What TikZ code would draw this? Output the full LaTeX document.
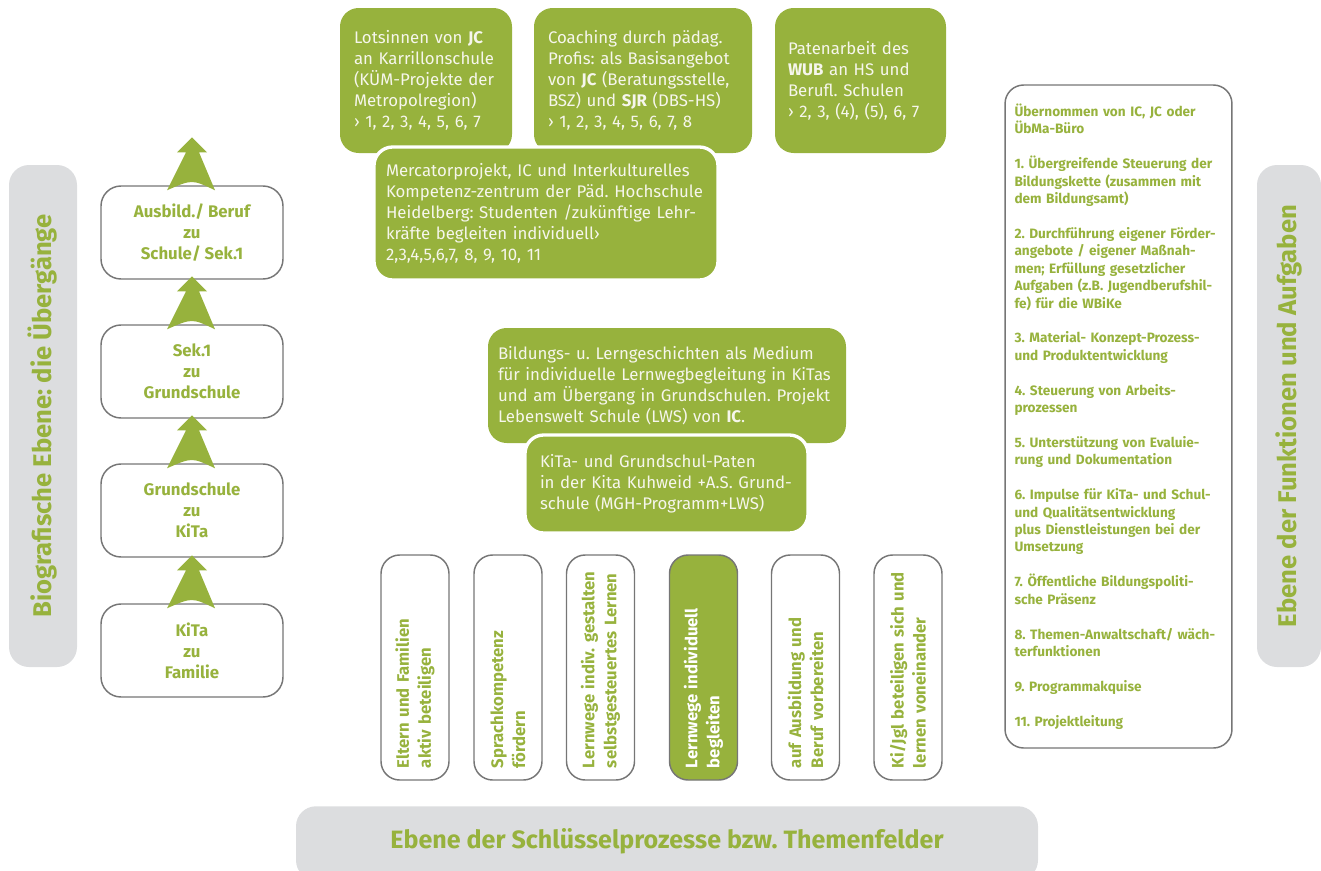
\documentclass[tikz,border=0pt]{standalone}
\usepackage{fontspec}
\setmainfont{Fira Sans}
\frenchspacing
\usetikzlibrary{calc}
\definecolor{wbgreen}{RGB}{151,178,61}
\definecolor{wbgray}{RGB}{220,221,223}
\definecolor{wbline}{RGB}{118,118,118}
\definecolor{wbtext}{RGB}{246,246,236}
\def\stagearrow(#1){
  \fill[wbgreen, shift={(#1.north)}] (0,-48) -- (15,-33) -- (7,-33) -- (23,5) .. controls (0,-6) .. (-25,5) -- (-6,-33) -- (-15,-33) -- cycle;
}

\begin{document}
\begin{tikzpicture}[x=0.75pt, y=-0.75pt,
  gbox/.style={fill=wbgreen, text=wbtext, rounded corners=14pt, align=left, font=\fontsize{12.6}{15.75}\selectfont},
  stage/.style={draw=wbline, line width=1.1pt, fill=white, rounded corners=15pt, minimum width=136.5pt, minimum height=69.75pt, align=center, text=wbgreen, font=\bfseries\fontsize{12.6}{15.75}\selectfont},
  tfbox/.style={draw=wbline, line width=1.1pt, rounded corners=14pt, rotate=90, minimum height=51pt, text width=150.75pt, inner xsep=9pt, align=left, text=wbgreen, font=\bfseries\fontsize{12.5}{16.5}\selectfont},
  sidebar/.style={fill=wbgray, rounded corners=15pt, rotate=90, minimum width=376.5pt, text=wbgreen, font=\bfseries\fontsize{19.2}{22}\selectfont}]
\useasboundingbox (0,0) rectangle (1321,871);

\node[sidebar, minimum height=51pt] (bio_bar) at (43,416) {Biografische Ebene: die Übergänge};
\node[sidebar, minimum height=48pt] (fkt_bar) at (1289,416) {Ebene der Funktionen und Aufgaben};
\node[fill=wbgray, rounded corners=15pt, anchor=north, inner ysep=0pt, text height=31.5pt, text depth=24pt, minimum width=556.5pt, text=wbgreen, font=\bfseries\fontsize{18.8}{22}\selectfont] (themen_bar) at (667,806) {Ebene der Schlüsselprozesse bzw. Themenfelder};

\node[stage] (stg_beruf) at (192,232.5) {Ausbild./ Beruf\\zu\\Schule/ Sek.1};
\node[stage] (stg_sek) at (192,371.5) {Sek.1\\zu\\Grundschule};
\node[stage] (stg_gs) at (192,510.5) {Grundschule\\zu\\KiTa};
\node[stage] (stg_kita) at (192,650.5) {KiTa\\zu\\Familie};
\stagearrow(stg_beruf)
\stagearrow(stg_sek)
\stagearrow(stg_gs)
\stagearrow(stg_kita)

\node[gbox, inner xsep=10.5pt, text width=108pt, minimum height=108.75pt] (jc_lotsen) at (426,80.5) {Lotsinnen von \textbf{JC}\\an Karrillonschule\\(KÜM-Projekte der\\Metropolregion)\\› 1, 2, 3, 4, 5, 6, 7};
\node[gbox, inner xsep=10.5pt, text width=142.5pt, minimum height=108.75pt] (jc_coach) at (643,80.5) {Coaching durch pädag.\\Profis: als Basisangebot\\von \textbf{JC} (Beratungsstelle,\\BSZ) und \textbf{SJR} (DBS-HS)\\› 1, 2, 3, 4, 5, 6, 7, 8};
\node[gbox, inner xsep=9.75pt, text width=108.75pt, minimum height=108.75pt] (wub_paten) at (860.5,80.5) {Patenarbeit des\\\textbf{WUB} an HS und\\Berufl. Schulen\\› 2, 3, (4), (5), 6, 7};
\node[gbox, draw=white, line width=2.5pt, inner xsep=9pt, text width=240pt, minimum height=99.75pt] (mercator) at (546,213.5) {Mercatorprojekt, IC und Interkulturelles\\Kompetenz-zentrum der Päd. Hochschule\\Heidelberg: Studenten /zukünftige Lehr-\\kräfte begleiten individuell›\\2,3,4,5,6,7, 8, 9, 10, 11};
\node[gbox, inner xsep=7.5pt, text width=253.5pt, minimum height=86.25pt] (lerngesch) at (667,385.5) {Bildungs- u. Lerngeschichten als Medium\\für individuelle Lernwegbegleitung in KiTas\\und am Übergang in Grundschulen. Projekt\\Lebenswelt Schule (LWS) von \textbf{IC}.};
\node[gbox, draw=white, line width=2.5pt, inner xsep=11.25pt, text width=189.75pt, minimum height=73.5pt] (gs_paten) at (666.5,484) {KiTa- und Grundschul-Paten\\in der Kita Kuhweid +A.S. Grund-\\schule (MGH-Programm+LWS)};

\node[tfbox] (tf_eltern) at (415,667.5) {Eltern und Familien\\aktiv beteiligen};
\node[tfbox] (tf_sprache) at (508,667.5) {Sprachkompetenz\\fördern};
\node[tfbox] (tf_gestalten) at (600.5,667.5) {Lernwege indiv. gestalten\\selbstgesteuertes Lernen};
\node[tfbox, fill=wbgreen, text=white] (tf_begleiten) at (703.5,667.5) {Lernwege individuell\\begleiten};
\node[tfbox] (tf_beruf) at (805.5,667.5) {auf Ausbildung und\\Beruf vorbereiten};
\node[tfbox] (tf_beteiligen) at (908,667.5) {Ki/Jgl beteiligen sich und\\lernen voneinander};

\node[draw=wbline, line width=1.1pt, fill=white, rounded corners=14pt, align=left, text=wbgreen, text width=156pt, inner xsep=7.1pt, minimum height=497.25pt, font=\bfseries\fontsize{10.2}{13.07}\selectfont] (aufgaben) at (1118.5,416.5) {Übernommen von IC, JC oder\\ÜbMa-Büro\\[13.07pt]
1. Übergreifende Steuerung der\\Bildungskette (zusammen mit\\dem Bildungsamt)\\[13.07pt]
2. Durchführung eigener Förder-\\angebote / eigener Maßnah-\\men; Erfüllung gesetzlicher\\Aufgaben (z.B. Jugendberufshil-\\fe) für die WBiKe\\[13.07pt]
3. Material- Konzept-Prozess-\\und Produktentwicklung\\[13.07pt]
4. Steuerung von Arbeits-\\prozessen\\[13.07pt]
5. Unterstützung von Evaluie-\\rung und Dokumentation\\[13.07pt]
6. Impulse für KiTa- und Schul-\\und Qualitätsentwicklung\\plus Dienstleistungen bei der\\Umsetzung\\[13.07pt]
7. Öffentliche Bildungspoliti-\\sche Präsenz\\[13.07pt]
8. Themen-Anwaltschaft/ wäch-\\terfunktionen\\[13.07pt]
9. Programmakquise\\[13.07pt]
11. Projektleitung};
\end{tikzpicture}
\end{document}
